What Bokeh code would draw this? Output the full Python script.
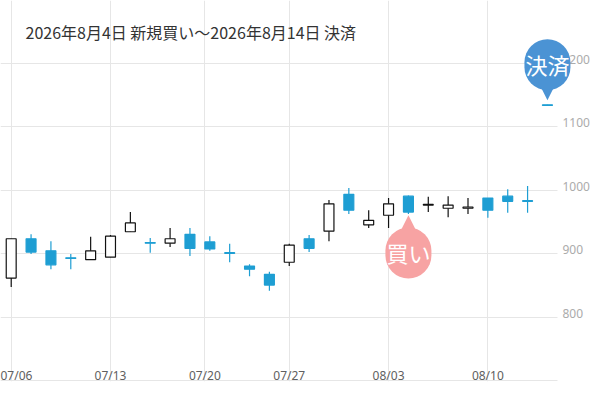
import numpy as np
import pandas as pd
from bokeh.plotting import figure
from bokeh.models import (ColumnDataSource, Range1d, FixedTicker, Label,
                          Arrow, NormalHead, BoxAnnotation)
from bokeh.embed import file_html
from bokeh.resources import INLINE

# ---- data ----
dates = ["2026-07-06", "2026-07-07", "2026-07-08", "2026-07-09", "2026-07-10",
         "2026-07-13", "2026-07-14", "2026-07-15", "2026-07-16", "2026-07-17",
         "2026-07-21", "2026-07-22", "2026-07-23", "2026-07-24",
         "2026-07-27", "2026-07-28", "2026-07-29", "2026-07-30", "2026-07-31",
         "2026-08-03", "2026-08-04", "2026-08-05", "2026-08-06", "2026-08-07",
         "2026-08-10", "2026-08-11", "2026-08-12", "2026-08-14"]
opens  = [862, 924, 905, 894, 891, 895, 935, 918, 917, 931, 919, 902, 881, 868,
          887, 924, 936, 994, 946, 961, 991, 977, 972, 972, 988, 991, 984, 1135]
highs  = [924, 931, 920, 900, 927, 930, 966, 925, 941, 941, 928, 916, 884, 872,
          916, 930, 985, 1004, 969, 988, 992, 990, 991, 988, 988, 1002, 1007, 1135]
lows   = [848, 900, 876, 876, 891, 895, 935, 902, 911, 897, 905, 887, 865, 842,
          881, 903, 920, 963, 941, 941, 963, 966, 958, 963, 957, 965, 965, 1134]
closes = [924, 903, 883, 893, 905, 928, 949, 917, 924, 909, 908, 901, 876, 851,
          914, 909, 979, 969, 953, 979, 966, 978, 977, 974, 969, 983, 983, 1134]

tick_dates = ["2026-07-06", "2026-07-13", "2026-07-20", "2026-07-27",
              "2026-08-03", "2026-08-10"]
tick_labels = ["07/06", "07/13", "07/20", "07/27", "08/03", "08/10"]
grid_levels = [700, 800, 900, 1000, 1100, 1200]
y_labels = ["", "800", "900", "1000", "1100", "1200"]

title_text = "2026年8月4日 新規買い〜2026年8月14日 決済"
buy_date, buy_text = "2026-08-04", "買い"
sell_date, sell_text = "2026-08-14", "決済"

# ---- styles ----
UP_FILL, UP_LINE = "#ffffff", "#111111"
DOWN = "#1e9ed3"
GRID = "#e6e6e6"
BUY_COL = "#f7a3a3"
SELL_COL = "#4b93d4"
JP = "Noto Sans CJK JP"
LABEL_LIFT = 7  # price labels sit just above their grid line
BUBBLE_PAD = dict(left=1, right=1, top=9, bottom=10)

# ordinal x positions (trading days), ticks interpolated in time
idx = np.arange(len(dates))
t_trade = pd.to_datetime(dates).values.astype("int64")
t_ticks = pd.to_datetime(tick_dates).values.astype("int64")
tick_pos = [float(v) for v in np.interp(t_ticks, t_trade, idx)]

o = np.array(opens, float); c = np.array(closes, float)
up = c > o
src = ColumnDataSource(dict(
    x=idx, high=highs, low=lows,
    top=np.maximum(o, c), bottom=np.minimum(o, c),
    fill=[UP_FILL if u else DOWN for u in up],
    line=[UP_LINE if u else DOWN for u in up],
))

p = figure(width=596, height=396, output_backend="svg", toolbar_location=None,
           x_range=Range1d(-0.539, 29.47), y_range=Range1d(699.2, 1299.2),
           y_axis_location="right", min_border_left=0, min_border_top=0,
           min_border_right=0, min_border_bottom=15)
p.outline_line_color = None
p.background_fill_color = "white"
p.border_fill_color = "white"

# grids
p.xgrid.ticker = FixedTicker(ticks=tick_pos)
p.ygrid.ticker = FixedTicker(ticks=grid_levels)
p.xgrid.grid_line_color = GRID
p.ygrid.grid_line_color = GRID
# grid stops short of the right-hand price labels
p.add_layout(BoxAnnotation(left=557, left_units="screen", fill_color="white",
                           fill_alpha=1.0, line_color=None, level="underlay"))

# candles
p.segment(x0="x", y0="low", x1="x", y1="high", line_color="line",
          line_width=1.2, source=src)
p.vbar(x="x", width=0.5, top="top", bottom="bottom", fill_color="fill",
       line_color="line", line_width=1.2, source=src)

# x axis: labels drawn just above the bottom grid line
xa = p.xaxis[0]
xa.ticker = FixedTicker(ticks=tick_pos)
xa.major_label_overrides = {pos: lab for pos, lab in zip(tick_pos, tick_labels)}
xa.axis_line_color = None
xa.major_tick_line_color = None
xa.minor_tick_line_color = None
xa.major_tick_out = 0
xa.major_tick_in = 0
xa.major_label_standoff = -15
xa.major_label_text_font = "Noto Sans"
xa.major_label_text_font_size = "12px"
xa.major_label_text_color = "#606060"

# y axis on right, labels inside the plot area
ya = p.yaxis[0]
lab_pos = [v + LABEL_LIFT for v in grid_levels]
ya.ticker = FixedTicker(ticks=lab_pos)
ya.major_label_overrides = {v: s for v, s in zip(lab_pos, y_labels)}
ya.axis_line_color = None
ya.major_tick_line_color = None
ya.minor_tick_line_color = None
ya.major_tick_out = 0
ya.major_tick_in = 0
ya.major_label_standoff = -34
ya.major_label_text_font = "Noto Sans"
ya.major_label_text_font_size = "12px"
ya.major_label_text_color = "#ababab"

# title
p.add_layout(Label(x=25, y=350, x_units="screen", y_units="screen",
                   text=title_text, text_font=JP, text_font_size="16px",
                   text_color="#333333", text_baseline="middle"))

# markers
bi = dates.index(buy_date)
si = dates.index(sell_date)

p.add_layout(Arrow(x_start=bi, y_start=lows[bi] - 10, x_end=bi, y_end=lows[bi] - 2,
                   line_color=None,
                   end=NormalHead(size=14, fill_color=BUY_COL, line_color=None)))
p.add_layout(Label(x=bi, y=lows[bi], y_offset=-39, text=buy_text,
                   text_align="center", text_baseline="middle",
                   text_font=JP, text_font_size="22px", text_color="white",
                   background_fill_color=BUY_COL, border_radius=23,
                   padding=BUBBLE_PAD))

p.add_layout(Arrow(x_start=si, y_start=highs[si] + 20, x_end=si, y_end=highs[si] + 7,
                   line_color=None,
                   end=NormalHead(size=14, fill_color=SELL_COL, line_color=None)))
p.add_layout(Label(x=si, y=highs[si], y_offset=40, text=sell_text,
                   text_align="center", text_baseline="middle",
                   text_font=JP, text_font_size="22px", text_color="white",
                   background_fill_color=SELL_COL, border_radius=23,
                   padding=BUBBLE_PAD))

open("out.html", "w").write(file_html(p, INLINE))
